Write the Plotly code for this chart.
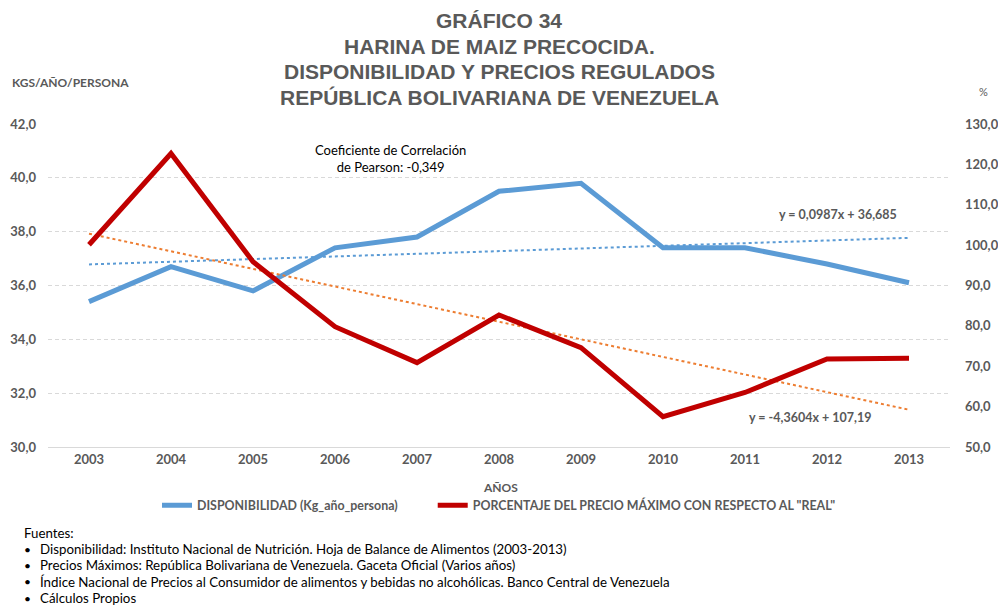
import plotly.graph_objects as go

# Años del periodo analizado
years = [2003, 2004, 2005, 2006, 2007, 2008, 2009, 2010, 2011, 2012, 2013]

# Disponibilidad de harina de maíz precocida (kg/año/persona)
disponibilidad = [35.4, 36.7, 35.8, 37.4, 37.8, 39.5, 39.8, 37.4, 37.4, 36.8, 36.1]

# Porcentaje del precio máximo con respecto al "real" (%)
porcentaje = [100.1, 122.7, 95.9, 79.8, 70.9, 82.7, 74.6, 57.5, 63.5, 71.8, 72.0]

# Coeficientes de las líneas de tendencia (x = 1..11)
trend_disp = (0.0987, 36.685)
trend_pct = (-4.3604, 107.19)

left_ticks = [30, 32, 34, 36, 38, 40, 42]
right_ticks = [50, 60, 70, 80, 90, 100, 110, 120, 130]

title_lines = [
    "GRÁFICO 34",
    "HARINA DE MAIZ PRECOCIDA.",
    "DISPONIBILIDAD Y PRECIOS REGULADOS",
    "REPÚBLICA BOLIVARIANA DE VENEZUELA",
]

sources = [
    "Disponibilidad: Instituto Nacional de Nutrición. Hoja de Balance de Alimentos (2003-2013)",
    "Precios Máximos: República Bolivariana de Venezuela. Gaceta Oficial (Varios años)",
    "Índice Nacional de Precios al Consumidor de alimentos y bebidas no alcohólicas. Banco Central de Venezuela",
    "Cálculos Propios",
]

GRAY = "#595959"
BLUE = "#5B9BD5"
RED = "#C00000"
ORANGE = "#ED7D31"
BODY = "Lato, Calibri, sans-serif"
TITLE = "Liberation Sans, Arial, sans-serif"

W, H = 998, 606
ML, MR, MT, MB = 48, 48, 124, 159


def fmt(v):
    return f"{v:.1f}".replace(".", ",")


idx = list(range(1, len(years) + 1))
trend_disp_y = [trend_disp[0] * i + trend_disp[1] for i in idx]
trend_pct_y = [trend_pct[0] * i + trend_pct[1] for i in idx]

fig = go.Figure()

fig.add_trace(go.Scatter(
    x=years, y=trend_disp_y, mode="lines", showlegend=False,
    line=dict(color=BLUE, width=2, dash="dot"), yaxis="y", hoverinfo="skip"))
fig.add_trace(go.Scatter(
    x=years, y=trend_pct_y, mode="lines", showlegend=False,
    line=dict(color=ORANGE, width=2, dash="dot"), yaxis="y2", hoverinfo="skip"))
fig.add_trace(go.Scatter(
    x=years, y=disponibilidad, mode="lines",
    name="DISPONIBILIDAD (Kg_año_persona)" + "\u00a0" * 10,
    line=dict(color=BLUE, width=5), yaxis="y"))
fig.add_trace(go.Scatter(
    x=years, y=porcentaje, mode="lines",
    name='PORCENTAJE DEL PRECIO MÁXIMO CON RESPECTO AL "REAL"',
    line=dict(color=RED, width=5), yaxis="y2"))

tick_font = dict(family=BODY, size=13, color=GRAY, weight="bold")

fig.update_layout(
    width=W, height=H,
    margin=dict(l=ML, r=MR, t=MT, b=MB, autoexpand=False),
    paper_bgcolor="white", plot_bgcolor="white",
    showlegend=True,
    legend=dict(orientation="h", x=0.5, xanchor="center", y=-0.135, yanchor="top",
                font=dict(family=BODY, size=12.4, color=GRAY, weight="bold"),
                itemwidth=30),
    xaxis=dict(range=[2002.5, 2013.5], tickvals=years, ticktext=[str(y) for y in years],
               tickfont=tick_font, showgrid=False, zeroline=False, automargin=False,
               showline=True, linecolor="#D9D9D9", linewidth=1, ticks=""),
    yaxis=dict(range=[30, 42], tickvals=left_ticks,
               ticktext=[fmt(v) for v in left_ticks],
               tickfont=tick_font, showgrid=True, gridcolor="#D9D9D9", griddash="4px,3px",
               gridwidth=1, zeroline=False, showline=False, ticks="",
               automargin=False, ticklabelstandoff=11),
    yaxis2=dict(range=[50, 130], tickvals=right_ticks,
                ticktext=[fmt(v) for v in right_ticks],
                tickfont=tick_font, overlaying="y", side="right",
                showgrid=False, zeroline=False, showline=False, ticks="",
                automargin=False, ticklabelstandoff=14),
)

pw = W - ML - MR
ph = H - MT - MB


def px_x(x):
    return (x - ML) / pw


def px_y(y):
    return 1 - (y - MT) / ph


texts = []
for i, line in enumerate(title_lines):
    texts.append(dict(text=line, x=499, y=21 + i * 25.4,
                      font=dict(family=TITLE, size=21, color=GRAY, weight="bold"),
                      xanchor="center"))

texts += [
    dict(text="KGS/AÑO/PERSONA", x=10, y=82, font=dict(family=BODY, size=12, color=GRAY, weight="bold"),
         xanchor="left"),
    dict(text="%", x=984, y=92, font=dict(family=BODY, size=11, color=GRAY), xanchor="center"),
    dict(text="AÑOS", x=500, y=487, font=dict(family=BODY, size=12, color=GRAY, weight="bold"),
         xanchor="center"),
    dict(text="Coeficiente de Correlación<br>de Pearson: -0,349", x=390, y=158,
         font=dict(family=BODY, size=13, color="#000000"), xanchor="center", align="center"),
    dict(text="y = 0,0987x + 36,685", x=838, y=214,
         font=dict(family=BODY, size=12.5, color=GRAY, weight="bold"), xanchor="center"),
    dict(text="y = -4,3604x + 107,19", x=810, y=417,
         font=dict(family=BODY, size=12.5, color=GRAY, weight="bold"), xanchor="center"),
    dict(text="Fuentes:", x=22, y=533, font=dict(family=BODY, size=13.3, color="#000000"),
         xanchor="left"),
]

for i, s in enumerate(sources):
    yy = 549 + i * 16.4
    texts.append(dict(text="•", x=22, y=yy, font=dict(family=BODY, size=12, color="#000000"),
                      xanchor="left"))
    texts.append(dict(text=s, x=38, y=yy, font=dict(family=BODY, size=13.3, color="#000000"),
                      xanchor="left"))

for a in texts:
    a.update(xref="paper", yref="paper", showarrow=False, yanchor="middle")
    a["x"] = px_x(a["x"])
    a["y"] = px_y(a["y"])

fig.update_layout(annotations=texts)

fig.write_html("out.html")
